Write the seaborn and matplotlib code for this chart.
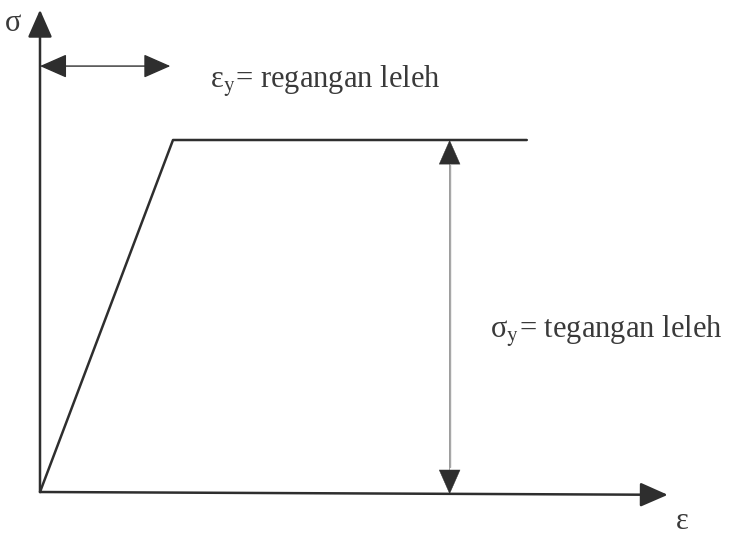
import numpy as np
import pandas as pd
import matplotlib
matplotlib.use('Agg')
import matplotlib.pyplot as plt
import seaborn as sns

sns.set_style('white')
plt.rcParams['font.family'] = ['Liberation Serif', 'DejaVu Serif']
plt.rcParams['mathtext.fontset'] = 'stix'

# elastic - perfectly plastic curve (strain in units of yield strain, stress in units of yield stress)
strain = [0.0, 1.0, 3.66]
stress = [0.0, 1.0, 1.0]
eps_y = 0.98        # span of the yield-strain arrow
sig_arrow_x = 3.08  # where the yield-stress arrow sits
x_axis_end = 4.72
y_axis_end = 1.37
eps_arrow_y = 1.21

label_eps = r'ε$_\mathrm{y}$= regangan leleh'
label_sig = r'σ$_\mathrm{y}$= tegangan leleh'

fig = plt.figure(figsize=(7.29, 5.41), dpi=100)
ax = fig.add_axes([0, 0, 1, 1])
ax.set_xlim(-40 / 133, 689 / 133)
ax.set_ylim(-49 / 352, 492 / 352)
ax.axis('off')

dark = '#2e2e2e'
txt = '#3a3a3a'

df = pd.DataFrame({'strain': strain, 'stress': stress})
sns.lineplot(data=df, x='strain', y='stress', ax=ax, color=dark, lw=1.8, sort=False)

head = dict(color=dark, mutation_scale=34, shrinkA=0, shrinkB=0)

# axes with arrowheads
ax.annotate('', xy=(x_axis_end, -0.008), xytext=(0, 0),
            arrowprops=dict(arrowstyle='-|>,head_length=0.5,head_width=0.22', lw=1.8, **head))
ax.annotate('', xy=(0, y_axis_end), xytext=(0, 0),
            arrowprops=dict(arrowstyle='-|>,head_length=0.5,head_width=0.22', lw=1.8, **head))

# yield strain arrow
ax.annotate('', xy=(eps_y, eps_arrow_y), xytext=(0, eps_arrow_y),
            arrowprops=dict(arrowstyle='<|-|>,head_length=0.5,head_width=0.22', lw=1.0, **head))
# yield stress arrow
ax.annotate('', xy=(sig_arrow_x, 1.0), xytext=(sig_arrow_x, -0.006),
            arrowprops=dict(arrowstyle='<|-|>,head_length=0.5,head_width=0.22', lw=0.3, **head))
ax.plot([sig_arrow_x, sig_arrow_x], [0.07, 0.93], color='#a8a8a8', lw=1.0)

ax.text(-0.2, 1.33, 'σ', fontsize=22, color=txt, ha='center', va='center')
ax.text(4.83, -0.085, 'ε', fontsize=22, color=txt, ha='center', va='center')
ax.text(1.28, 1.168, label_eps, fontsize=22, color=txt, ha='left', va='center')
ax.text(3.38, 0.455, label_sig, fontsize=22, color=txt, ha='left', va='center')

fig.savefig('out.png', dpi=100)
